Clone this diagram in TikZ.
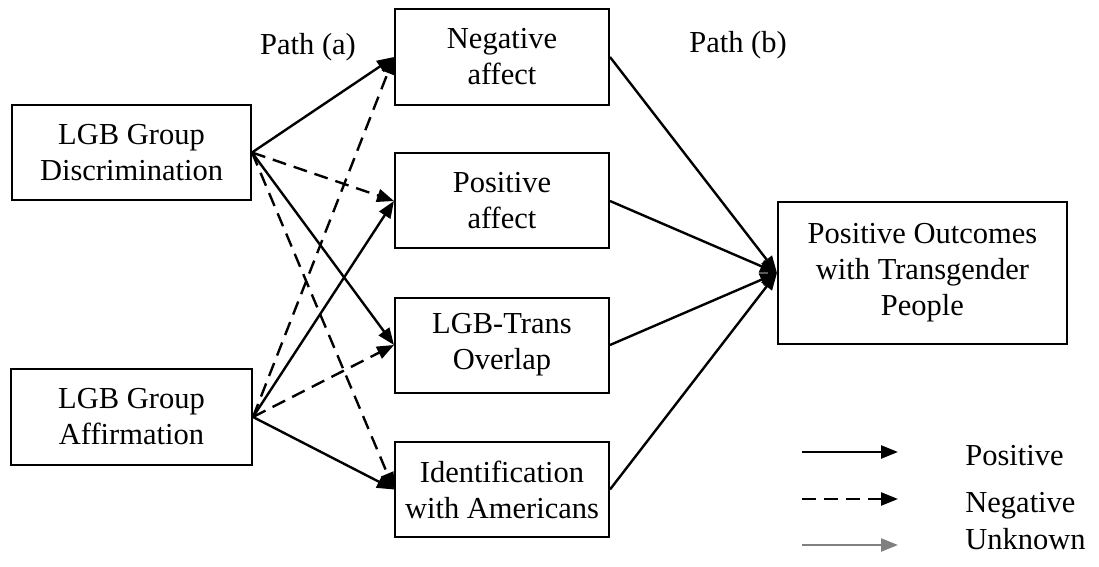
\documentclass[tikz,border=0pt]{standalone}
\usepackage{fontspec}
\setmainfont{Liberation Serif}
\usepackage{tikz}
\usetikzlibrary{shapes, arrows.meta}

\tikzset{
	box/.style={rectangle, draw, line width=1pt, align=center, inner sep=0pt},
	posarrow/.style={->, line width=1.2pt},
	negarrow/.style={->, line width=1.2pt, dash pattern=on 7pt off 4pt},
	unkarrow/.style={->, line width=1.2pt, draw=gray, >={Triangle[length=8.5pt, width=6.5pt, fill=gray]}}
}

\begin{document}
\begin{tikzpicture}[x=0.5pt, y=-0.5pt, >={Triangle[length=8.5pt, width=6.5pt]},
		font=\fontsize{15.25}{18}\selectfont]
		\useasboundingbox (0,0) rectangle (1099,567);
		% left
		\node at (131.5,152.5) [box, minimum width=119.5pt, minimum height=47.5pt] (disc) {LGB Group\\Discrimination};
		\node at (131.5,417) [box, minimum width=120.5pt, minimum height=48pt] (affirm) {LGB Group\\Affirmation};
		% middle
		\node at (502,57) [box, minimum width=107pt, minimum height=48pt] (negaff) {Negative\\affect};
		\node at (502,201) [box, minimum width=107pt, minimum height=47.5pt] (posaff) {Positive\\affect};
		\node at (502,345) [box, minimum width=107pt, minimum height=47.5pt] (overlap) {LGB-Trans\\Overlap};
		\node at (502,489.5) [box, minimum width=107pt, minimum height=47.5pt] (ident) {Identification\\with Americans};
		% right
		\node at (922.5,273) [box, minimum width=144.5pt, minimum height=71pt] (outcome) {Positive Outcomes\\with Transgender\\People};
		\node at (308,47) (patha) {Path (a)};
		\node at (738,45) (pathb) {Path (b)};
		% path (a)
		\draw[posarrow] (disc.east) -- (negaff.west);
		\draw[negarrow] (disc.east) -- (posaff.west);
		\draw[posarrow] (disc.east) -- (overlap.west);
		\draw[negarrow] (disc.east) -- (ident.west);
		\draw[negarrow] (affirm.east) -- (negaff.west);
		\draw[posarrow] (affirm.east) -- (posaff.west);
		\draw[negarrow] (affirm.east) -- (overlap.west);
		\draw[posarrow] (affirm.east) -- (ident.west);
		% path (b)
		\draw[posarrow] (negaff.east) -- (outcome.west);
		\draw[posarrow] (posaff.east) -- (outcome.west);
		\draw[posarrow] (overlap.east) -- (outcome.west);
		\draw[posarrow] (ident.east) -- (outcome.west);
		% legend
		\coordinate (l1) at (802,452);
		\coordinate (r1) at (898,452);
		\coordinate (l2) at (802,499);
		\coordinate (r2) at (898,499);
		\coordinate (l3) at (802,545);
		\coordinate (r3) at (898,545);
		\draw[posarrow] (l1) -- (r1);
		\draw[negarrow] (l2) -- (r2);
		\draw[unkarrow] (l3) -- (r3);
		\node at (965,465) [anchor=base west, inner sep=0pt] (lpos) {Positive};
		\node at (965,512) [anchor=base west, inner sep=0pt] (lneg) {Negative};
		\node at (965,549) [anchor=base west, inner sep=0pt] (lunk) {Unknown};
	\end{tikzpicture}
\end{document}
